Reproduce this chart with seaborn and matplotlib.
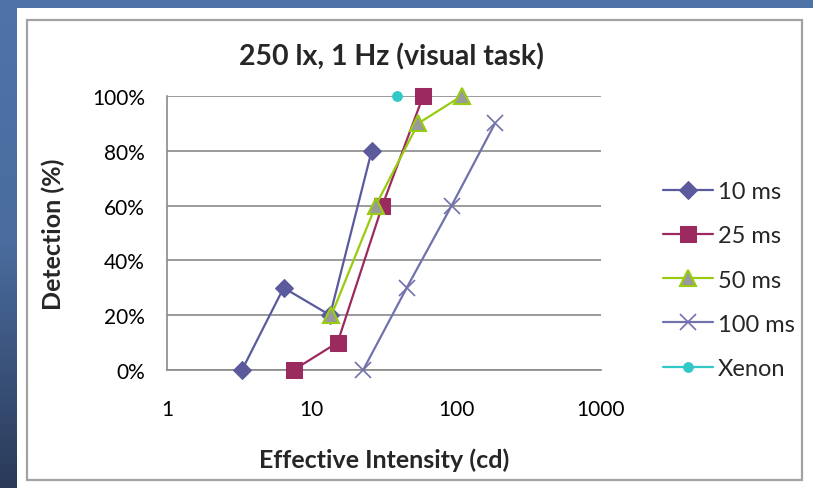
import numpy as np
import pandas as pd
import matplotlib
matplotlib.use("Agg")
import matplotlib.pyplot as plt
from matplotlib.patches import Rectangle
from matplotlib.ticker import FuncFormatter, FixedLocator
from matplotlib.colors import LinearSegmentedColormap
import seaborn as sns

# ---- data ----
x_10 = [3.3, 6.4, 13.4, 26.0]
y_10 = [0.0, 0.30, 0.20, 0.80]
x_25 = [7.5, 15.1, 30.8, 59.0]
y_25 = [0.0, 0.10, 0.60, 1.00]
x_50 = [13.7, 27.7, 54.5, 109.0]
y_50 = [0.20, 0.60, 0.90, 1.00]
x_100 = [22.7, 45.4, 92.8, 185.0]
y_100 = [0.0, 0.30, 0.60, 0.90]
x_xe = [38.7]
y_xe = [1.00]
series_names = ["10 ms", "25 ms", "50 ms", "100 ms", "Xenon"]
x_ticks = [1, 10, 100, 1000]
y_ticks = [0, 0.2, 0.4, 0.6, 0.8, 1.0]

sns.set_theme(style="white")
plt.rcParams['font.family'] = ['Lato', 'DejaVu Sans']

W, H = 813, 489
fig = plt.figure(figsize=(W / 100, H / 100), dpi=100)

# background gradient (slide)
bg = fig.add_axes([0, 0, 1, 1], zorder=-10)
grad = np.linspace(0, 1, 256).reshape(-1, 1)
cmap = LinearSegmentedColormap.from_list("bg", ["#4E74A8", "#4A6C9E", "#2A3A58"])
bg.imshow(grad, aspect="auto", cmap=cmap, extent=[0, 1, 0, 1], origin="upper")
bg.set_axis_off()

# white chart panel
fig.patches.append(Rectangle((17 / W, 0), (W - 17) / W, (H - 9) / H,
                             transform=fig.transFigure, facecolor="white",
                             edgecolor="none", zorder=-5))
fig.patches.append(Rectangle((27 / W, 1 - 481 / H), (802 - 27) / W, (481 - 21) / H,
                             transform=fig.transFigure, facecolor="none",
                             edgecolor="#A3A3A3", lw=1.6, zorder=-4))

ax = fig.add_axes([167 / W, 1 - 371 / H, (601 - 167) / W, (371 - 97) / H])
ax.set_facecolor("none")

styles = [
    (x_10, y_10, dict(color="#5A5A9C", marker="D", markersize=9.5,
                      markerfacecolor="#5A5A9C", markeredgecolor="#5A5A9C")),
    (x_25, y_25, dict(color="#9B2B5E", marker="s", markersize=11,
                      markerfacecolor="#9B2B5E", markeredgecolor="#9B2B5E")),
    (x_50, y_50, dict(color="#99CC11", marker="^", markersize=11.5,
                      markerfacecolor="#9A9A9A", markeredgecolor="#99CC11",
                      markeredgewidth=1.5)),
    (x_100, y_100, dict(color="#7171AC", marker="x", markersize=12,
                        markeredgewidth=1.2, markeredgecolor="#7171AC")),
    (x_xe, y_xe, dict(color="#33C8C8", marker="o", markersize=7,
                      markerfacecolor="#33C8C8", markeredgecolor="#33C8C8")),
]

for (xs, ys, st), name in zip(styles, series_names):
    sns.lineplot(x=xs, y=ys, ax=ax, label=name, linewidth=1.6,
                 sort=False, clip_on=False, zorder=5, **st)

ax.set_xscale("log")
ax.set_xlim(1, 1000)
ax.set_ylim(0, 1)
ax.xaxis.set_major_locator(FixedLocator(x_ticks))
ax.xaxis.set_minor_locator(FixedLocator([]))
ax.xaxis.set_major_formatter(FuncFormatter(lambda v, p: f"{v:g}"))
ax.set_yticks(y_ticks)
ax.yaxis.set_major_formatter(FuncFormatter(lambda v, p: f"{v*100:.0f}%"))
ax.grid(axis="y", color="#8A8A8A", lw=1.2)
ax.grid(axis="x", visible=False)
for s in ["top", "right"]:
    ax.spines[s].set_visible(False)
for s in ["left", "bottom"]:
    ax.spines[s].set_color("#8A8A8A")
    ax.spines[s].set_linewidth(1.2)
ax.tick_params(axis="both", which="major", direction="out", length=5,
               width=1.2, color="#8A8A8A", labelsize=15, labelcolor="black")
ax.tick_params(axis="y", pad=11)
ax.tick_params(axis="x", pad=16)
ax.set_axisbelow(True)

ax.set_xlabel("Effective Intensity (cd)", fontsize=18, fontweight="bold",
              labelpad=20)
ax.set_ylabel("Detection (%)", fontsize=18, fontweight="bold", labelpad=19)
fig.text(391 / W, 1 - 57 / H, "250 lx, 1 Hz (visual task)", fontsize=20.5,
         fontweight="bold", ha="center", va="center")

leg = ax.legend(loc="center left", bbox_to_anchor=(642 / W, 1 - 281 / H),
                bbox_transform=fig.transFigure, frameon=False, fontsize=17,
                handlelength=2.1, handletextpad=0.2, labelspacing=0.98)

fig.savefig("out.png", dpi=100)
